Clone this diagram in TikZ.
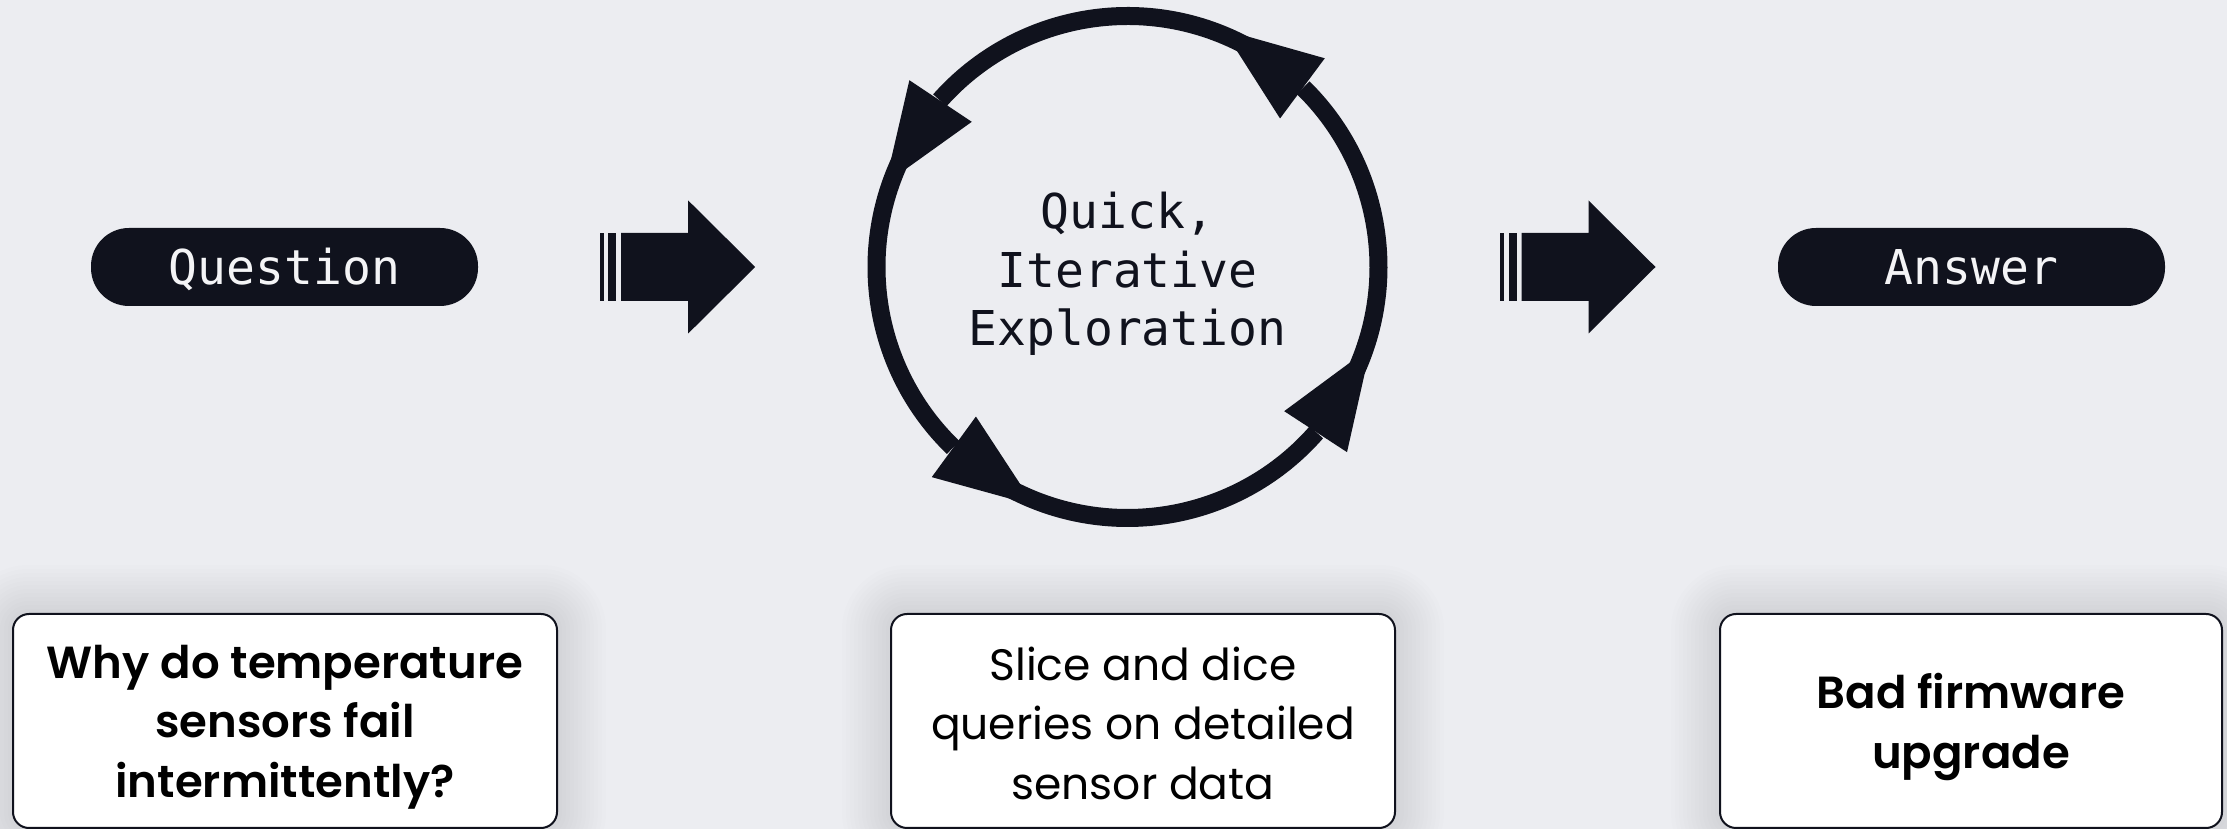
\documentclass[tikz,border=0pt]{standalone}
\usepackage{fontspec}
\usetikzlibrary{calc,backgrounds}
\newfontfamily\monofont{DejaVu Sans Mono}
\newfontfamily\cardfont{Poppins}[BoldFont={Poppins SemiBold}]
\definecolor{bg}{HTML}{ECEDF1}
\definecolor{ink}{HTML}{10121D}
\definecolor{pilltext}{HTML}{F4F4F6}

\tikzset{
  pill/.style={rectangle, rounded corners=38pt, fill=ink, minimum width=387pt,
    minimum height=78pt, inner sep=0pt, text=pilltext, text height=35pt, text depth=0pt,
    font=\monofont\fontsize{48}{58}\selectfont},
  card/.style={rectangle, rounded corners=16pt, draw=ink, line width=2pt, fill=white,
    minimum height=214pt, inner sep=0pt},
  cardtext/.style={align=center, text=black, inner sep=0pt,
    font=\cardfont\fontsize{44}{59.5}\selectfont},
  cardbold/.style={cardtext, font=\cardfont\bfseries\fontsize{45}{59.5}\selectfont},
  softshadow/.style={fill=black, fill opacity=0.006},
  looplabel/.style={align=center, text=ink, font=\monofont\fontsize{48}{58.5}\selectfont},
  ring/.style={draw=ink, line width=18pt},
  ringtip/.style={fill=ink},
  flowarrow/.pic={
    \fill[ink] (0,-34) rectangle (4,34);
    \fill[ink] (8.5,-34) rectangle (16.5,34);
    \fill[ink] (21.5,-34) -- (88.5,-34) -- (88.5,-66.5) -- (155.5,0)
      -- (88.5,66.5) -- (88.5,34) -- (21.5,34) -- cycle;
  }
}

\begin{document}
\begin{tikzpicture}[x=1pt,y=1pt]
  \useasboundingbox (0,0) rectangle (2227,829);

  % top row: question, exploration loop, answer
  \node[pill] (question) at (284.5,562) {Question};
  \node[pill] (answer) at (1971.5,562) {Answer};
  \coordinate (loopc) at (1127.5,562);
  \node[looplabel] (looptext) at ($(loopc)+(0,-7)$) {Quick,\\Iterative\\Exploration};

  % the loop: four arcs, each ending in a triangular head (counter-clockwise)
  \foreach \s/\e in {-24.3/45.6, 62/138.4, 155/226, 242.6/318.8}
    \draw[ring] ($(loopc)+(\s:251)$) arc[start angle=\s, end angle=\e, radius=251];
  \foreach \b/\t [count=\i] in {45.6/68, 138.4/161, 226/248.6, 318.8/341.7} {
    \coordinate (tip\i) at ($(loopc)+(\t:256)$);
    \coordinate (base\i) at ($(loopc)+(\b:250)$);
    \fill[ringtip] (tip\i) -- ($(base\i)!37.5pt!90:(tip\i)$)
      -- ($(base\i)!37.5pt!-90:(tip\i)$) -- cycle;
  }

  % block arrows between the stages
  \pic at ([xshift=121.5pt]question.east) {flowarrow};
  \pic at ($(loopc)+(372.5,0)$) {flowarrow};

  % description cards
  \node[card, minimum width=544pt] (qcard) at (285,108) {};
  \node[card, minimum width=504pt] (ecard) at (1143,108) {};
  \node[card, minimum width=502pt] (acard) at (1971,108) {};
  \node[cardbold] (qtext) at ($(qcard.center)+(0,-6)$)
    {Why do temperature\\sensors fail\\intermittently?};
  \node[cardtext] (etext) at ($(ecard.center)+(0,-2)$)
    {Slice and dice\\queries on detailed\\sensor data};
  \node[cardbold] (atext) at ($(acard.center)+(0,-6)$)
    {Bad firmware\\upgrade};

  % page colour, then a soft glow around each card
  \begin{pgfonlayer}{background}
    \fill[bg] (0,0) rectangle (2227,829);
    \foreach \c in {qcard, ecard, acard}
      \foreach \k in {1,...,12}
        \fill[softshadow, rounded corners=16pt+4pt*\k]
          ($(\c.south west)+(-4*\k,-4*\k)$) rectangle ($(\c.north east)+(4*\k,4*\k)$);
  \end{pgfonlayer}
\end{tikzpicture}
\end{document}
